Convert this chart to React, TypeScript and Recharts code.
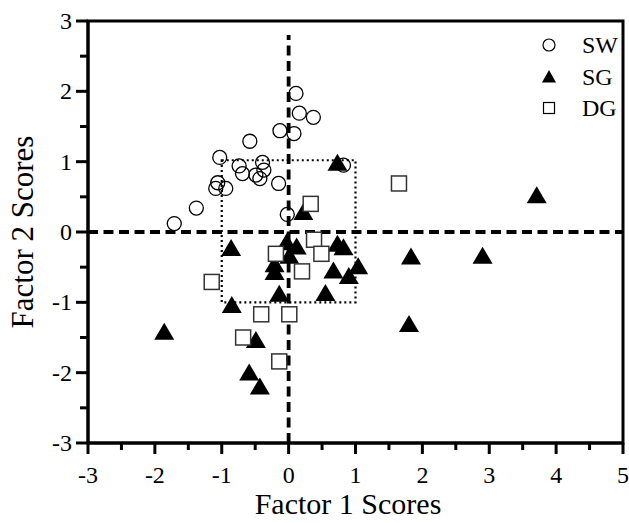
import React from "react";
import {
  ScatterChart,
  Scatter,
  XAxis,
  YAxis,
  ReferenceLine,
  ReferenceArea,
  Legend,
  Label,
} from "recharts";

const SERIF = '"Liberation Serif", "Times New Roman", Times, serif';

// SW: open circles
const swPoints: [number, number][] = [
  [-1.71, 0.12], [-1.38, 0.34], [-1.03, 1.06], [-1.06, 0.7], [-1.09, 0.62],
  [-0.94, 0.62], [-0.74, 0.94], [-0.69, 0.83], [-0.58, 1.29], [-0.49, 0.81],
  [-0.43, 0.76], [-0.39, 0.99], [-0.37, 0.88], [-0.15, 0.69], [-0.13, 1.44],
  [0.08, 1.4], [0.11, 1.97], [0.16, 1.69], [0.37, 1.63], [-0.02, 0.25],
  [0.82, 0.95],
];

// SG: filled triangles
const sgPoints: [number, number][] = [
  [0.73, 0.99], [3.71, 0.53], [0.22, 0.29], [-0.86, -0.22], [-0.03, -0.14],
  [0.12, -0.2], [0.73, -0.16], [0.82, -0.21], [0.01, -0.33], [-0.21, -0.45],
  [-0.21, -0.56], [0.67, -0.54], [1.04, -0.48], [0.9, -0.62], [1.83, -0.34],
  [2.9, -0.33], [-0.14, -0.87], [0.55, -0.86], [-0.85, -1.03], [-1.86, -1.41],
  [1.8, -1.3], [-0.49, -1.53], [-0.59, -1.99], [-0.43, -2.19],
];

// DG: open squares
const dgPoints: [number, number][] = [
  [1.65, 0.69], [0.33, 0.4], [0.38, -0.11], [-0.19, -0.31], [0.49, -0.31],
  [0.2, -0.56], [-1.15, -0.71], [-0.41, -1.17], [0.01, -1.17], [-0.68, -1.5],
  [-0.14, -1.84],
];

const xTicks = [-3, -2.5, -2, -1.5, -1, -0.5, 0, 0.5, 1, 1.5, 2, 2.5, 3, 3.5, 4, 4.5, 5];
const yTicks = [-3, -2.5, -2, -1.5, -1, -0.5, 0, 0.5, 1, 1.5, 2, 2.5, 3];

const legendItems = ["SW", "SG", "DG"];

const toXY = (pts: [number, number][]) => pts.map(([x, y]) => ({ x, y }));

function CircleMark({ cx, cy }: any) {
  return <circle cx={cx} cy={cy} r={7} fill="none" stroke="#000" strokeWidth={1.3} />;
}

function TriMark({ cx, cy }: any) {
  return (
    <path
      d={`M${cx},${cy - 8.5} L${cx + 10},${cy + 8.5} L${cx - 10},${cy + 8.5} Z`}
      fill="#000"
    />
  );
}

function SquareMark({ cx, cy }: any) {
  return (
    <rect x={cx - 7.5} y={cy - 7.5} width={15} height={15} fill="#fff" stroke="#333" strokeWidth={1.5} />
  );
}

function XTick({ x, y, payload }: any) {
  const v = payload.value;
  const major = Number.isInteger(v);
  return (
    <g>
      <line x1={x} x2={x} y1={y} y2={y + (major ? 11 : 7)} stroke="#000" strokeWidth={3} />
      {major && (
        <text x={x} y={y + 40} textAnchor="middle" fontFamily={SERIF} fontSize={24} fill="#000">
          {String(v)}
        </text>
      )}
    </g>
  );
}

function YTick({ x, y, payload }: any) {
  const v = payload.value;
  const major = Number.isInteger(v);
  return (
    <g>
      <line x1={x} x2={x - (major ? 12 : 8)} y1={y} y2={y} stroke="#000" strokeWidth={3} />
      {major && (
        <text x={x - 16} y={y} dy="0.33em" textAnchor="end" fontFamily={SERIF} fontSize={24} fill="#000">
          {String(v)}
        </text>
      )}
    </g>
  );
}

function LegendBox() {
  return (
    <svg width={85} height={110}>
      {legendItems.map((name, i) => {
        const cy = 17 + i * 31.5;
        return (
          <g key={name}>
            {i === 0 && <circle cx={9} cy={cy} r={6} fill="none" stroke="#000" strokeWidth={1.2} />}
            {i === 1 && <path d={`M9,${cy - 6.5} L16,${cy + 6} L2,${cy + 6} Z`} fill="#000" />}
            {i === 2 && (
              <rect x={3.5} y={cy - 5.5} width={11} height={11} fill="#fff" stroke="#000" strokeWidth={1.2} />
            )}
            <text x={42} y={cy + 8} fontFamily={SERIF} fontSize={24} fill="#000">
              {name}
            </text>
          </g>
        );
      })}
    </svg>
  );
}

export default function App() {
  return (
    <div style={{ width: 629, height: 523, position: "relative", background: "#fff" }}>
      <style>{"body{margin:0}"}</style>
      <ScatterChart width={629} height={523} margin={{ top: 21, right: 6, bottom: 0, left: 0 }}>
        <XAxis
          type="number"
          dataKey="x"
          domain={[-3, 5]}
          ticks={xTicks}
          interval={0}
          height={80}
          tickSize={0}
          tickMargin={0}
          tickLine={false}
          axisLine={{ stroke: "#000", strokeWidth: 3 }}
          tick={<XTick />}
          allowDataOverflow
        >
          <Label
            content={() => (
              <text x={348} y={514} textAnchor="middle" fontFamily={SERIF} fontSize={30} fill="#000">
                Factor 1 Scores
              </text>
            )}
          />
        </XAxis>
        <YAxis
          type="number"
          dataKey="y"
          domain={[-3, 3]}
          ticks={yTicks}
          interval={0}
          width={88}
          tickSize={0}
          tickMargin={0}
          tickLine={false}
          axisLine={{ stroke: "#000", strokeWidth: 3 }}
          tick={<YTick />}
          allowDataOverflow
        >
          <Label
            content={() => (
              <text
                x={33}
                y={232}
                transform="rotate(-90 33 232)"
                textAnchor="middle"
                fontFamily={SERIF}
                fontSize={31}
                fill="#000"
              >
                Factor 2 Scores
              </text>
            )}
          />
        </YAxis>
        <ReferenceArea x1={-3} x2={5} y1={-3} y2={3} fill="none" stroke="#000" strokeWidth={3} />
        <Scatter name="SW" data={toXY(swPoints)} shape={CircleMark} isAnimationActive={false} />
        <Scatter name="SG" data={toXY(sgPoints)} shape={TriMark} isAnimationActive={false} />
        <Scatter name="DG" data={toXY(dgPoints)} shape={SquareMark} isAnimationActive={false} />
        <ReferenceArea
          x1={-1}
          x2={1}
          y1={-1}
          y2={1.02}
          fill="none"
          stroke="#000"
          strokeWidth={2.2}
          strokeDasharray="2 3"
        />
        <ReferenceLine y={0} stroke="#000" strokeWidth={3.8} strokeDasharray="10 5.5" />
        <ReferenceLine
          segment={[{ x: 0, y: -3 }, { x: 0, y: 2.8 }]}
          stroke="#000"
          strokeWidth={3.8}
          strokeDasharray="10 5.5"
        />
        <Legend
          layout="horizontal"
          align="center"
          verticalAlign="middle"
          content={() => <LegendBox />}
          wrapperStyle={{ position: "absolute", left: 540, top: 28, width: 85, height: 110 }}
        />
      </ScatterChart>
    </div>
  );
}
